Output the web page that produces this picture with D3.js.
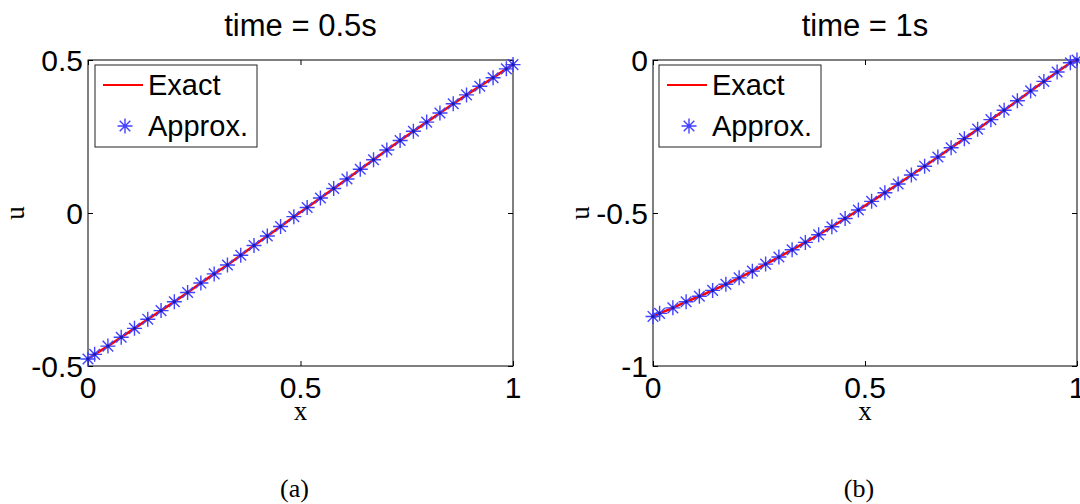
<!DOCTYPE html>
<html>
<head>
<meta charset="utf-8">
<script src="https://cdn.jsdelivr.net/npm/d3@7"></script>
<style>
  html, body { margin: 0; padding: 0; background: #ffffff; }
  svg { display: block; }
</style>
</head>
<body>
<svg id="fig" width="1080" height="504"></svg>
<script>
// Grid: boundary nodes plus 32 cell centres on [0, 1]
const xGrid = [0, 0.015625, 0.046875, 0.078125, 0.109375, 0.140625, 0.171875, 0.203125,
  0.234375, 0.265625, 0.296875, 0.328125, 0.359375, 0.390625, 0.421875, 0.453125,
  0.484375, 0.515625, 0.546875, 0.578125, 0.609375, 0.640625, 0.671875, 0.703125,
  0.734375, 0.765625, 0.796875, 0.828125, 0.859375, 0.890625, 0.921875, 0.953125,
  0.984375, 1];

// Solution at t = 0.5 s
const uHalf = [-0.477, -0.462, -0.435, -0.406, -0.377, -0.347, -0.319, -0.290,
  -0.260, -0.229, -0.199, -0.170, -0.138, -0.106, -0.075, -0.044,
  -0.012, 0.018, 0.049, 0.080, 0.111, 0.143, 0.174, 0.206,
  0.237, 0.267, 0.297, 0.327, 0.357, 0.386, 0.414, 0.442,
  0.471, 0.485];

// Solution at t = 1 s
const uOne = [-0.838, -0.828, -0.810, -0.790, -0.772, -0.753, -0.733, -0.712,
  -0.690, -0.667, -0.644, -0.620, -0.596, -0.571, -0.545, -0.518,
  -0.490, -0.462, -0.434, -0.405, -0.376, -0.347, -0.317, -0.287,
  -0.257, -0.226, -0.195, -0.164, -0.133, -0.101, -0.070, -0.039,
  -0.009, 0.000];

const xTicks = [0, 0.5, 1];
const yTicksHalf = [-0.5, 0, 0.5];
const yTicksOne = [-1, -0.5, 0];
const titles = ["time = 0.5s", "time = 1s"];
const captions = ["(a)", "(b)"];
const legendLabels = ["Exact", "Approx."];

const panels = [
  { left: 88, right: 513, top: 60, bottom: 366, yDomain: [-0.5, 0.5], yTicks: yTicksHalf,
    u: uHalf, title: titles[0], caption: captions[0], legendDx: 7 },
  { left: 653, right: 1077, top: 60, bottom: 366, yDomain: [-1, 0], yTicks: yTicksOne,
    u: uOne, title: titles[1], caption: captions[1], legendDx: 6 }
];

const svg = d3.select("#fig");
const sans = "'Liberation Sans', Arial, sans-serif";
const serif = "'Liberation Serif', 'Times New Roman', serif";
// Plain hyphen for negative tick labels
const fmt = d => String(d);

// Eight-armed asterisk marker (plus + cross)
function asterisk(g, r) {
  const k = r * Math.SQRT1_2;
  g.append("path")
    .attr("d", `M${-r},0L${r},0M0,${-r}L0,${r}M${-k},${-k}L${k},${k}M${-k},${k}L${k},${-k}`)
    .attr("stroke", "#4242ff").attr("stroke-width", 1.4).attr("fill", "none");
}

panels.forEach(p => {
  const x = d3.scaleLinear().domain([0, 1]).range([p.left, p.right]);
  const y = d3.scaleLinear().domain(p.yDomain).range([p.bottom, p.top]);
  const g = svg.append("g");
  const tickLen = 5;

  // Title
  g.append("text").attr("x", (p.left + p.right) / 2).attr("y", 36)
    .attr("text-anchor", "middle").attr("font-family", sans).attr("font-size", 31)
    .text(p.title);

  // Axes box and inward ticks on all sides
  g.append("rect").attr("x", p.left).attr("y", p.top)
    .attr("width", p.right - p.left).attr("height", p.bottom - p.top)
    .attr("fill", "none").attr("stroke", "#000").attr("stroke-width", 1);

  const xb = d3.axisBottom(x).tickValues(xTicks).tickSize(-tickLen).tickFormat("");
  const xt = d3.axisTop(x).tickValues(xTicks).tickSize(-tickLen).tickFormat("");
  const yl = d3.axisLeft(y).tickValues(p.yTicks).tickSize(-tickLen).tickFormat("");
  const yr = d3.axisRight(y).tickValues(p.yTicks).tickSize(-tickLen).tickFormat("");
  [[xb, `translate(0,${p.bottom})`], [xt, `translate(0,${p.top})`],
   [yl, `translate(${p.left},0)`], [yr, `translate(${p.right},0)`]].forEach(([ax, tr]) => {
    const a = g.append("g").attr("transform", tr).call(ax);
    a.select(".domain").remove();
    a.selectAll("line").attr("stroke", "#000");
  });

  // Tick labels
  g.selectAll(null).data(xTicks).enter().append("text")
    .attr("x", d => x(d)).attr("y", p.bottom + 32)
    .attr("text-anchor", "middle").attr("font-family", sans).attr("font-size", 30)
    .text(fmt);
  g.selectAll(null).data(p.yTicks).enter().append("text")
    .attr("x", p.left - 5).attr("y", d => y(d)).attr("dy", "0.36em")
    .attr("text-anchor", "end").attr("font-family", sans).attr("font-size", 30)
    .text(fmt);

  // Axis labels
  g.append("text").attr("x", (p.left + p.right) / 2).attr("y", p.bottom + 54)
    .attr("text-anchor", "middle").attr("font-family", serif).attr("font-size", 27)
    .text("x");
  g.append("text")
    .attr("transform", `translate(${p.left - 64},${(p.top + p.bottom) / 2}) rotate(-90)`)
    .attr("text-anchor", "middle").attr("font-family", serif).attr("font-size", 27)
    .text("u");

  // Exact solution
  const pts = xGrid.map((xv, i) => [xv, p.u[i]]);
  g.append("path").datum(pts)
    .attr("d", d3.line().x(d => x(d[0])).y(d => y(d[1])))
    .attr("fill", "none").attr("stroke", "#ff0000").attr("stroke-width", 2.5);

  // Approximate solution markers
  const m = g.selectAll(null).data(pts).enter().append("g")
    .attr("transform", d => `translate(${x(d[0])},${y(d[1])})`);
  m.each(function () { asterisk(d3.select(this), 7.5); });
  m.append("circle").attr("r", 1.7).attr("fill", "#1a1ab0");

  // Legend
  const lx = p.left + p.legendDx, ly = 65;
  const lg = g.append("g").attr("transform", `translate(${lx},${ly})`);
  lg.append("rect").attr("width", 162).attr("height", 82)
    .attr("fill", "#fff").attr("stroke", "#222").attr("stroke-width", 1);
  lg.append("line").attr("x1", 8).attr("x2", 48).attr("y1", 20).attr("y2", 20)
    .attr("stroke", "#ff0000").attr("stroke-width", 2);
  lg.append("text").attr("x", 53).attr("y", 20).attr("dy", "0.36em")
    .attr("font-family", sans).attr("font-size", 29).text(legendLabels[0]);
  const lm = lg.append("g").attr("transform", "translate(30,61)");
  asterisk(lm, 7.5);
  lg.append("text").attr("x", 53).attr("y", 61).attr("dy", "0.36em")
    .attr("font-family", sans).attr("font-size", 29).text(legendLabels[1]);

  // Sub-figure caption
  svg.append("text").attr("x", (p.left + p.right) / 2 - 6).attr("y", 497)
    .attr("text-anchor", "middle").attr("font-family", serif).attr("font-size", 26)
    .text(p.caption);
});
</script>
</body>
</html>
